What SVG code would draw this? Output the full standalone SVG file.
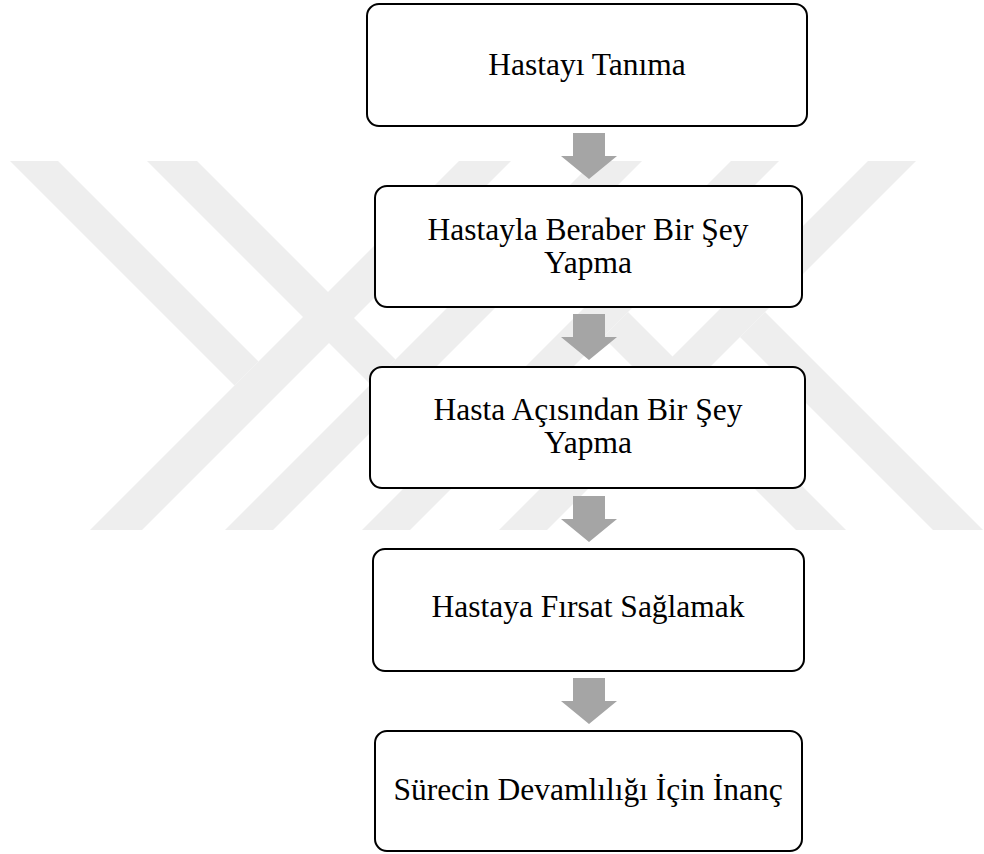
<svg xmlns="http://www.w3.org/2000/svg" width="984" height="854" viewBox="0 0 984 854">
  <style>
    .mark { fill: #eeeeee; }
    .box { fill: #ffffff; stroke: #000000; stroke-width: 2; }
    .label { font-family: "Liberation Serif", "Times New Roman", serif; font-size: 31.5px; fill: #000000; text-anchor: middle; }
    .arrow { fill: #a5a5a5; }
  </style>
  <defs>
    <!-- block arrow pointing down, origin at top centre of the shaft -->
    <path id="downArrow" d="M -16 0 H 16 V 23 H 28 L 0 46 L -28 23 H -16 Z"/>
  </defs>

  <rect x="0" y="0" width="984" height="854" fill="#ffffff"/>

  <!-- background emblem: diagonal bands -->
  <g id="emblem">
    <polygon class="mark" points="10,161 58,161 258.5,361.5 234.5,385.5"/>
    <polygon class="mark" points="147,161 197,161 395.5,359.5 370.5,384.5"/>
    <polygon class="mark" points="459,161 511,161 142,530 90,530"/>
    <polygon class="mark" points="594,161 642,161 273,530 225,530"/>
    <polygon class="mark" points="731,161 779,161 410,530 362,530"/>
    <polygon class="mark" points="868,161 916,161 547,530 499,530"/>
    <polygon class="mark" points="603,337 628,312 846,530 796,530"/>
    <polygon class="mark" points="740,337 765,312 983,530 933,530"/>
  </g>

  <g id="connectors">
    <use href="#downArrow" class="arrow" x="589" y="133"/>
    <use href="#downArrow" class="arrow" x="589" y="314"/>
    <use href="#downArrow" class="arrow" x="589" y="496"/>
    <use href="#downArrow" class="arrow" x="589" y="678"/>
  </g>

  <g id="step1">
    <rect class="box" x="367" y="4" width="440" height="122" rx="12"/>
    <text class="label" x="587" y="75">Hastayı Tanıma</text>
  </g>

  <g id="step2">
    <rect class="box" x="375" y="186" width="427" height="121" rx="12"/>
    <text class="label" x="588" y="240">Hastayla Beraber Bir Şey</text>
    <text class="label" x="588" y="273">Yapma</text>
  </g>

  <g id="step3">
    <rect class="box" x="370" y="367" width="435" height="121" rx="12"/>
    <text class="label" x="588" y="420">Hasta Açısından Bir Şey</text>
    <text class="label" x="588" y="453">Yapma</text>
  </g>

  <g id="step4">
    <rect class="box" x="373" y="549" width="431" height="122" rx="12"/>
    <text class="label" x="588" y="617">Hastaya Fırsat Sağlamak</text>
  </g>

  <g id="step5">
    <rect class="box" x="375" y="731" width="427" height="120" rx="12"/>
    <text class="label" x="588" y="800">Sürecin Devamlılığı İçin İnanç</text>
  </g>
</svg>
